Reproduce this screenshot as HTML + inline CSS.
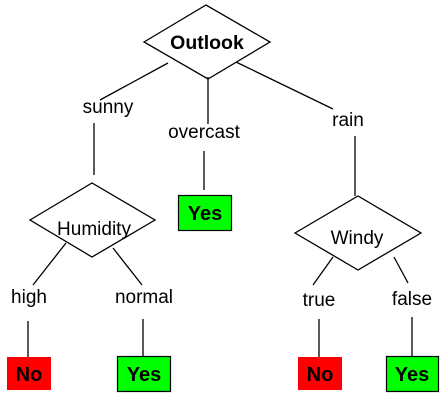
<!DOCTYPE html>
<html><head><style>body{margin:0;background:#fff}svg{display:block}</style></head><body>
<svg width="446" height="412" xmlns="http://www.w3.org/2000/svg" font-family="Liberation Sans, Arial, sans-serif">
<g stroke="#000" stroke-width="1.3" fill="none">
<polygon points="144,42 206,5 270,42 208,79" fill="#fff"/>
<polygon points="30,220 92,183 155,220 92,257" fill="#fff"/>
<polygon points="295,233 358,196 421,233 358,270" fill="#fff"/>
<line x1="168" y1="63" x2="100" y2="100"/>
<line x1="208" y1="77" x2="208" y2="124"/>
<line x1="236" y1="62" x2="333" y2="109"/>
<line x1="94" y1="123" x2="94" y2="175"/>
<line x1="204" y1="151" x2="204" y2="190"/>
<line x1="355" y1="136" x2="355" y2="196"/>
<line x1="66" y1="243" x2="33" y2="285"/>
<line x1="113" y1="248" x2="142" y2="285"/>
<line x1="333" y1="257" x2="313" y2="285"/>
<line x1="394" y1="257" x2="408" y2="283"/>
<line x1="28" y1="321" x2="28" y2="357"/>
<line x1="143" y1="319" x2="143" y2="356"/>
<line x1="319" y1="319" x2="319" y2="357"/>
<line x1="412" y1="317" x2="412" y2="356"/>
</g>
<rect x="178.5" y="195.5" width="53" height="35" fill="#00ff00" stroke="#000" stroke-width="1.2"/>
<rect x="117.5" y="356.5" width="53" height="35" fill="#00ff00" stroke="#000" stroke-width="1.2"/>
<rect x="386.5" y="356.5" width="52" height="35" fill="#00ff00" stroke="#000" stroke-width="1.2"/>
<rect x="7" y="357" width="44" height="33" fill="#ff0000"/>
<rect x="298" y="357" width="44" height="33" fill="#ff0000"/>
<g font-size="19" text-anchor="middle" fill="#000">
<text x="207" y="49" font-weight="bold" font-size="19.5">Outlook</text>
<text x="108" y="113">sunny</text>
<text x="204" y="138">overcast</text>
<text x="348" y="126">rain</text>
<text x="94" y="235">Humidity</text>
<text x="357" y="244">Windy</text>
<text x="29" y="303">high</text>
<text x="144" y="303">normal</text>
<text x="319" y="306">true</text>
<text x="412" y="305">false</text>
<g font-weight="bold" font-size="20">
<text x="205" y="220">Yes</text>
<text x="144" y="381">Yes</text>
<text x="412" y="381">Yes</text>
<text x="29" y="381">No</text>
<text x="320" y="381">No</text>
</g>
</g>
</svg>
</body></html>
